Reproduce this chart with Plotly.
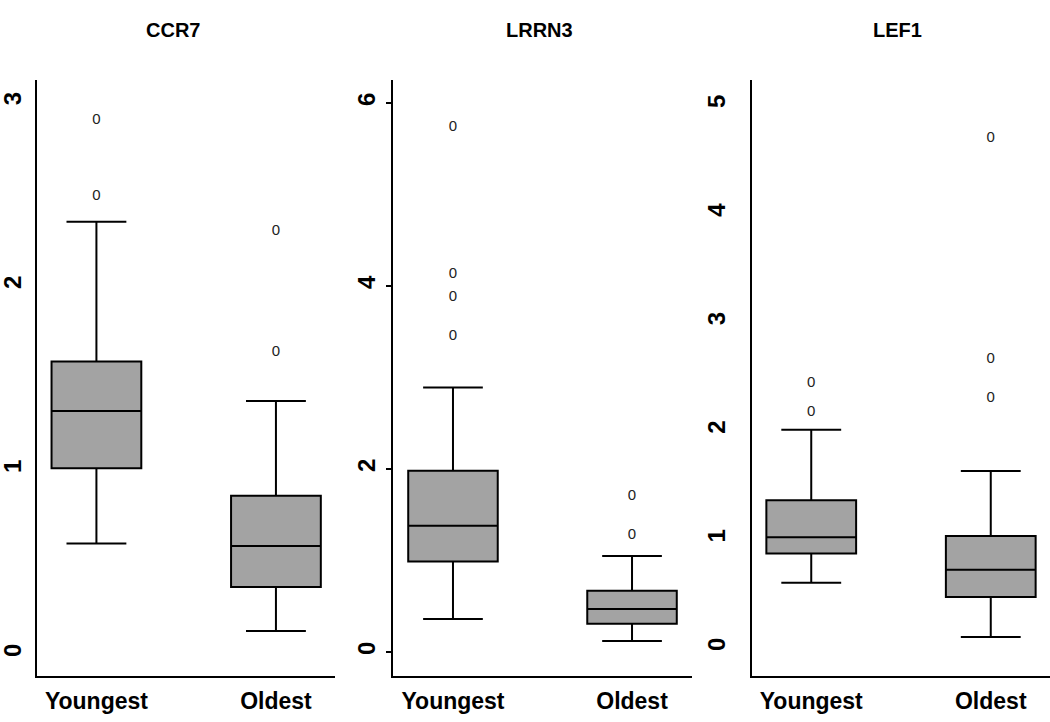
import plotly.graph_objects as go

genes = ["CCR7", "LRRN3", "LEF1"]
groups = ["Youngest", "Oldest"]

# per gene: [Youngest, Oldest]
lower_whisker = {"CCR7": [0.60, 0.125], "LRRN3": [0.36, 0.12], "LEF1": [0.60, 0.10]}
q1_vals = {"CCR7": [1.01, 0.364], "LRRN3": [0.99, 0.31], "LEF1": [0.87, 0.47]}
median_vals = {"CCR7": [1.32, 0.587], "LRRN3": [1.38, 0.47], "LEF1": [1.02, 0.72]}
q3_vals = {"CCR7": [1.59, 0.86], "LRRN3": [1.98, 0.67], "LEF1": [1.36, 1.03]}
upper_whisker = {"CCR7": [2.35, 1.375], "LRRN3": [2.89, 1.05], "LEF1": [2.01, 1.63]}

outliers_young = {"CCR7": [2.90, 2.49], "LRRN3": [5.73, 4.13, 3.88, 3.45], "LEF1": [2.44, 2.17]}
outliers_old = {"CCR7": [2.30, 1.64], "LRRN3": [1.70, 1.28], "LEF1": [4.69, 2.66, 2.30]}

y_ticks = {"CCR7": [0, 1, 2, 3], "LRRN3": [0, 2, 4, 6], "LEF1": [0, 1, 2, 3, 4, 5]}
y_ranges = {"CCR7": [-0.12, 3.12], "LRRN3": [-0.262, 6.25], "LEF1": [-0.258, 5.23]}

W, H = 1050, 722
x_px = [(37, 335), (393, 692), (752, 1050)]
x_ranges = [[-0.331, 1.329], [-0.335, 1.335], [-0.33, 1.33]]
y_standoff = [4, 1, 15]
title_x_px = [173, 539, 897]
y_top_px, y_bot_px = 80, 676

FONT = "Liberation Sans, Arial, sans-serif"

fig = go.Figure()
layout = dict(
    width=W, height=H, margin=dict(l=0, r=0, t=0, b=0, autoexpand=False),
    paper_bgcolor="white", plot_bgcolor="white", showlegend=False,
    font=dict(family=FONT, color="black"),
)
annotations = []
for i, g in enumerate(genes):
    n = "" if i == 0 else str(i + 1)
    xa, ya = "x" + n, "y" + n
    fig.add_trace(go.Box(
        x=[0, 1], q1=q1_vals[g], median=median_vals[g], q3=q3_vals[g],
        lowerfence=lower_whisker[g], upperfence=upper_whisker[g],
        width=0.5, whiskerwidth=0.667, boxpoints=False,
        fillcolor="#A3A3A3", line=dict(color="black", width=2),
        xaxis=xa, yaxis=ya, hoverinfo="skip",
    ))
    ox = [0] * len(outliers_young[g]) + [1] * len(outliers_old[g])
    oy = outliers_young[g] + outliers_old[g]
    fig.add_trace(go.Scatter(
        x=ox, y=oy, mode="text", text=["0"] * len(oy),
        textfont=dict(family=FONT, size=15, color="#222222"),
        xaxis=xa, yaxis=ya, hoverinfo="skip", cliponaxis=False,
    ))
    x0, x1 = x_px[i]
    layout["xaxis" + n] = dict(
        domain=[x0 / W, x1 / W], anchor=ya, range=x_ranges[i],
        tickvals=[0, 1], ticktext=groups, showline=True, linecolor="black",
        linewidth=2, ticks="", showgrid=False, zeroline=False, automargin=False,
        tickfont=dict(family=FONT, size=23, color="black", weight="bold"),
        ticklabelstandoff=3,
    )
    layout["yaxis" + n] = dict(
        domain=[(H - y_bot_px) / H, (H - y_top_px) / H], anchor=xa,
        range=y_ranges[g], tickvals=y_ticks[g], showline=True,
        linecolor="black", linewidth=2, showgrid=False, zeroline=False,
        automargin=False,
        ticks="outside" if g == "LRRN3" else "", ticklen=5, tickwidth=2,
        tickcolor="black", tickangle=-90,
        tickfont=dict(family=FONT, size=24, color="black", weight="bold"),
        ticklabelstandoff=y_standoff[i],
    )
    annotations.append(dict(
        text=g, x=title_x_px[i] / W, y=1 - 30 / H, xref="paper", yref="paper",
        xanchor="center", yanchor="middle", showarrow=False,
        font=dict(family=FONT, size=20, color="black", weight="bold"),
    ))
layout["annotations"] = annotations
fig.update_layout(**layout)
fig.write_html(
    "out.html",
    config={"displayModeBar": False},
    post_script="document.body.style.margin='0';document.body.style.overflow='hidden';",
)
